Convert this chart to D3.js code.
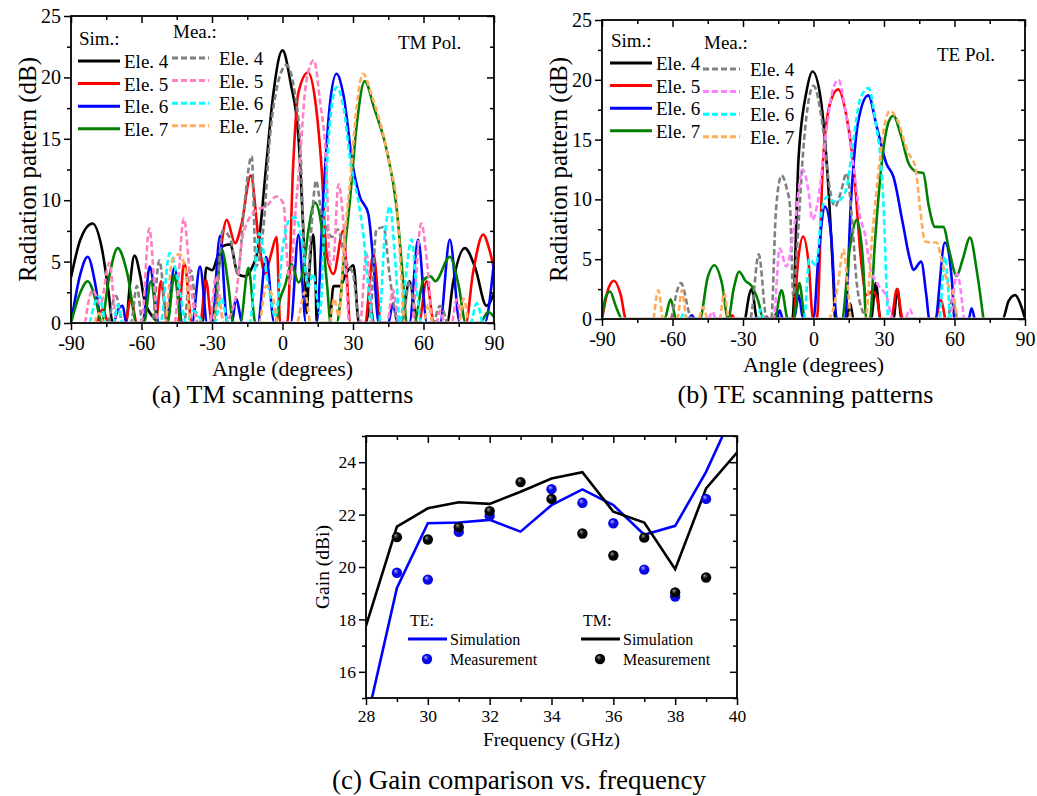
<!DOCTYPE html>
<html>
<head>
<meta charset="utf-8">
<script src="https://cdn.jsdelivr.net/npm/d3@7"></script>
<style>
  body { margin: 0; background: #fff; }
  svg text { font-family: "Liberation Serif", "Times New Roman", "DejaVu Serif", serif !important; fill: #000; }
</style>
</head>
<body>
<svg id="chart" width="1037" height="796" font-family="Liberation Serif, serif"></svg>
<script>
// ---- (a) TM radiation patterns: [angle (deg), level (dB)] ----
const tmSim4 = [[-90,3.7],[-86,6.8],[-80.8,8.1],[-77,6.2],[-74,2.5],[-72.3,0],[-66.6,0],[-65,3],[-63,5.5],[-60.5,3.8],[-58.8,1.9],[-55.2,0.5],[-52,0],[-34,0],[-32.5,4.5],[-30,4.3],[-26,6.2],[-22.3,6.4],[-19,4],[-16,3.8],[-13,4.5],[-10.5,6],[-7,12.7],[-4.2,18.2],[0,22.2],[3.5,19.5],[6.8,15.1],[9.5,4.6],[10.3,0.8],[11,3],[13.1,7.2],[14,4],[14.6,0],[20,0],[21.7,3],[24.5,3],[27,4],[30.2,4.7],[32.5,0],[35.5,0],[37.3,1.6],[38.8,0],[50.5,0],[54,3.4],[57.5,0],[70,0],[72.6,3.3],[77.6,6.1],[82,4.5],[86.8,1.4],[90,2.4]];
const tmSim5 = [[-79,0],[-76.5,1.1],[-74,0],[-67,0],[-64.5,2],[-62,0],[-54,0],[-51.7,3.4],[-49,0],[-44.5,0],[-41.8,4.9],[-38.5,0],[-35,0],[-32.6,3.5],[-30,0],[-27.5,4],[-23.7,8.4],[-20.2,6.5],[-17.5,8],[-13.5,12],[-10,6.5],[-7.4,4],[-5,5.5],[-2.5,7],[-1,0],[2,0],[4.5,12.7],[6.7,18.7],[10.9,20.4],[14,18],[16.6,12.7],[18.8,5.6],[21.7,4],[25.8,7.5],[29,0],[35,0],[38.7,5.6],[42,0],[58,0],[61.3,3.4],[64.5,0],[78,0],[81,4],[85.4,7.2],[88,6],[90,4.4]];
const tmSim6 = [[-90,0],[-86,4],[-82.9,5.4],[-79.5,3],[-77,0],[-72,0],[-70,1.1],[-68,1.4],[-66.5,0],[-59.5,0],[-56.5,4.6],[-52.5,0],[-49.5,0],[-46,4.5],[-42.5,0],[-38.5,0],[-35.1,4.6],[-32,0],[-30,0],[-26.6,7.1],[-23.5,0],[-21.5,0],[-19.8,2],[-17,0],[-10.5,0],[-7,5.4],[-3.5,0],[3.5,0],[6.8,7.2],[10,0],[14.5,0],[17.3,10],[20,17.5],[23,20.3],[26,18.5],[30,12.7],[32.9,10.3],[36.5,8.9],[38.6,5.1],[41,0],[45,0],[47,1.6],[49,0],[54,0],[57.7,6.8],[61.5,0],[67,0],[71.2,6.8],[75.5,0],[86,0],[90,5]];
const tmSim7 = [[-90,0],[-86,2.5],[-82.9,3.4],[-79,1.5],[-77,0],[-74,3.5],[-70.1,6.1],[-66,4],[-62,0],[-59,0],[-56,3.4],[-53,0],[-49,0],[-46,3.9],[-43,0],[-29.5,0],[-25.9,6],[-23,3],[-21,0],[-18,0],[-14.5,4.5],[-11.5,0],[-3,0],[-1.1,1.9],[1,3],[3.9,4.8],[6.8,3.3],[9,4.5],[11,7.5],[13.8,9.8],[16.5,8],[19,3],[20.5,0],[23,0],[24.4,1.4],[26,5],[28.7,10],[31.5,16],[35,19.7],[39,17.5],[44.3,14.1],[48.5,9.5],[51.5,3],[52.8,0],[56,0],[60,3.5],[63,3.8],[65,3.4],[71.2,5.4],[75,3],[78,0],[84,0],[87.5,0.9],[90,0.5]];
const tmMea4 = [[-74,0],[-70.8,2.2],[-68,0],[-64.5,0],[-62,3],[-59.5,0],[-55.5,0],[-52.4,5.1],[-49,0],[-42,0],[-39,4.3],[-36,0],[-29,0],[-25.5,7.5],[-22.3,6.9],[-19,4],[-16.5,9],[-13.1,13.6],[-11.3,4.6],[-8,8],[-5.6,14.6],[-2,19.5],[1.7,21],[5,19],[7.5,14.6],[9.5,5],[10.5,3],[12,7],[14.3,11.6],[16.5,9],[18.8,7.8],[21,7],[23.5,7.6],[27,5],[30,4],[33,0],[37,0],[40,7.6],[43,7.8],[45.5,4],[47,1.9],[49,0],[51,0],[54,3.4],[57,0],[64,0],[67,1.4],[70,0]];
const tmMea5 = [[-84,0],[-80.8,2.7],[-77.5,1.5],[-73.7,4.9],[-70.5,0],[-60,0],[-56.7,7.7],[-53,0],[-46,0],[-42,8.5],[-39,3],[-36,0],[-31,0],[-28.3,3.8],[-25,0],[-20,2],[-17,7],[-15.2,8.1],[-11,9.2],[-7,9.5],[-2.5,10.3],[0.5,9.7],[2,5],[3.1,3.2],[5.5,9],[7.4,13.3],[10,19.5],[13.3,21.4],[16,18],[18.7,12.7],[20.2,4.8],[21.6,5],[23.8,11.3],[26,8],[28.5,0],[33,0],[35.7,5.7],[38.5,0],[44.5,0],[47,2.7],[49.5,0],[55,0],[59,8.1],[62,4],[64,0],[65.5,0],[67,1],[69,0],[72,0],[74,1.9],[76,0]];
const tmMea6 = [[-82,0],[-78,2.2],[-75,0],[-72,0],[-70,1.5],[-68,0],[-52,0],[-48,5.7],[-44,3],[-41,0],[-38,1],[-33,0],[-29,0],[-26,2],[-23,0],[-14,0],[-9.9,7.3],[-6,3],[-3,0.5],[0,6],[2.9,8.4],[5.3,8.6],[8,7],[11,3],[13,4],[15.9,0.8],[18,9],[20,16],[23,19.2],[26,17.5],[29,13],[32.2,10],[34.5,7],[37,2],[38.6,0],[41,0],[43.5,7],[45.7,9.5],[48,5],[50,0],[52,3],[54.9,6.8],[57,3],[59,0],[80,0],[82.6,1.6],[85,0]];
const tmMea7 = [[-80,0],[-78,0.8],[-76,0],[-50,0],[-47,5],[-44,5.6],[-41,4],[-39,0],[-30,0],[-27,2],[-25,0],[-10,0],[-7,3],[-4,2],[-2,0],[6,0],[9.5,2.5],[12,0],[20,0],[22,2],[24,0.5],[26,6],[29,12],[31.5,17.5],[34.3,20.3],[38,18.5],[42.8,15.4],[46,12.5],[48.5,10],[50.5,4],[52,0],[60,0],[62,1.5],[64,0],[75,0],[77,2],[79,0]];

// ---- (b) TE radiation patterns ----
const teSim4 = [[-29,0],[-26.3,2.5],[-24,0],[-17,0],[-15.7,0.5],[-14.5,0],[-9,0],[-6.4,13.3],[-3,19],[-0.4,20.7],[3,18.5],[6,12],[8.5,3],[9.2,0],[14,0],[15.6,1.3],[17,0],[24.5,0],[26.5,3],[28.5,0],[34,0],[35.7,2.5],[37.5,0],[80.5,0],[83,1.5],[85.8,2],[88.5,1],[90,0]];
const teSim5 = [[-90,0],[-87,2.7],[-84.9,3.2],[-82,2],[-79.8,0],[-61,0],[-59.8,0.3],[-58.5,0],[-35.5,0],[-34.6,0.3],[-33.5,0],[-21,0],[-20,0.2],[-19,0],[-8.6,0],[-6.5,5],[-4.4,6.9],[-2,4.5],[-0.2,0],[1.4,0],[4,13],[7,18],[10.5,19.2],[14,17],[17,12.8],[20.5,4.4],[22.5,2],[25,2.3],[27,1.8],[28.5,0],[33,0],[35.5,2.5],[38,0],[52,0],[54,1.6],[56,0]];
const teSim6 = [[-53,0],[-51.8,0.3],[-50.5,0],[-16,0],[-14.4,0.7],[-13,0],[-8.3,0],[-6.3,2],[-4.4,0],[0,0],[2,5],[4.9,9.4],[7.5,7],[9.9,0],[13.4,0],[16,10],[19,16.5],[23.3,18.7],[27,16],[31,13],[34,11.9],[38,8],[41,5],[42.5,4.1],[45.8,4.8],[48,2],[49.3,0],[51.7,0],[55.9,6.4],[59,3],[60,0],[66,0],[67.3,0.9],[68.5,0]];
const teSim7 = [[-90,0],[-88.5,1.8],[-86.6,2.3],[-84,1],[-81.4,0],[-63.4,0],[-60.8,1.65],[-58.4,0],[-48.4,0],[-45,3.5],[-42.2,4.5],[-39,3],[-36.3,0],[-34,2.5],[-31.6,3.95],[-29,3.2],[-26.3,2.75],[-23.5,1.5],[-21.4,0],[-16.6,0],[-13.6,2.4],[-10.9,0],[-8.6,0],[-6,3],[-3.6,0],[12,0],[15.5,6],[18.4,8.3],[21,5],[22.5,0],[24,0],[26,6],[29,13],[32,16.5],[34,17],[37,15.5],[40.5,13],[43.9,12.3],[46.7,12.2],[49,9.5],[51.7,7.7],[55.2,7.7],[58,5.5],[60.9,3.6],[63.5,5],[66.6,6.8],[69.5,4],[72.3,0]];
const teMea4 = [[-60.4,0],[-56.4,3],[-51.8,0],[-27,0],[-23.3,5.4],[-19.9,0],[-18,0],[-16,9],[-13.6,12],[-11.5,11],[-10,9.4],[-8.6,1.9],[-7,6],[-4,15],[0,19.5],[4,16],[7,10.8],[9.2,9.4],[11.5,10.5],[14.1,12.2],[16.5,8],[18.4,3],[21.2,0.5],[22.5,0],[57,0],[58.9,1.6],[61,0]];
const teMea5 = [[-44.5,0],[-43,0.6],[-41.5,0],[-17,0],[-14.4,5.9],[-11.6,4.4],[-8,8],[-4.6,12.5],[-2,10.5],[-0.5,8.3],[2,10],[5,15],[8,19],[10.6,20],[13.5,17.5],[17,12.8],[19.8,8.6],[22,7],[24,4.4],[27,3],[31,1.9],[34,0],[39,0],[41,0.8],[43,0],[58,0],[61,3.8],[64,0]];
const teMea6 = [[-56.5,0],[-55,0.5],[-53.5,0],[-24,0],[-22.6,0.8],[-21,0],[-4,0],[-1.8,5],[1,4.5],[3.5,9],[5.6,10.2],[9,9.8],[11.5,10],[14.1,11],[17,15],[20,18.5],[23.4,19.3],[26,17],[29.7,10],[31,3],[31.8,0],[53.5,0],[55.9,5.2],[58,0]];
const teMea7 = [[-68,0],[-66,2.4],[-64,0],[-58,0],[-56,2.4],[-54,0],[-49,0],[-47,1],[-45,0],[-40,0],[-38,2.2],[-36,0],[6,0],[8.4,0.8],[10.5,3],[12.7,5.8],[14.5,3],[16,0],[22,0],[25,7],[27.6,12.2],[30,16],[32.5,17.4],[36,16.5],[40,14],[43.2,12.8],[45.5,9],[47.4,6.5],[50,6.4],[52.3,6.4],[55,4.5],[57,3],[59.4,2.2],[61,0]];

const elements = ['Ele. 4', 'Ele. 5', 'Ele. 6', 'Ele. 7'];
const angleTicks = [-90, -60, -30, 0, 30, 60, 90];
const levelTicks = [0, 5, 10, 15, 20, 25];

// ---- (c) gain vs frequency ----
const freqSim = [28, 29, 30, 31, 32, 33, 34, 35, 36, 37, 38, 39, 40];
const teSimGain = [14.0, 19.2, 21.67, 21.7, 21.8, 21.35, 22.36, 22.96, 22.36, 21.23, 21.57, 23.63, 26.2];
const tmSimGain = [17.75, 21.54, 22.24, 22.47, 22.41, 22.87, 23.38, 23.62, 22.11, 21.7, 19.92, 23.0, 24.37];
const teMeaFreq = [29, 30, 31, 32, 34, 35, 36, 37, 38, 39];
const teMeaGain = [19.78, 19.52, 21.34, 21.95, 22.97, 22.45, 21.67, 19.9, 18.87, 22.6];
const tmMeaFreq = [29, 30, 31, 32, 33, 34, 35, 36, 37, 38, 39];
const tmMeaGain = [21.14, 21.05, 21.52, 22.13, 23.24, 22.6, 21.28, 20.44, 21.12, 19.03, 19.6];
const freqTicks = [28, 30, 32, 34, 36, 38, 40];
const gainTicks = [16, 18, 20, 22, 24];

const simColors = ['#000000', '#ff0000', '#0000ff', '#008000'];

const svg = d3.select('#chart');
const defs = svg.append('defs');

// frame with outward ticks on left/bottom, inward mirror ticks on top/right
function drawFrame(g, x, y, o) {
  const fmt = d => String(d);
  const [x0, x1] = x.range();
  const [yb, yt] = y.range();
  const style = sel => {
    sel.attr('font-family', null).attr('font-size', null);
    sel.select('.domain').remove();
    sel.selectAll('line').attr('stroke', '#000').attr('stroke-width', 1.5);
    sel.selectAll('text').style('font-size', o.tickFont + 'px');
  };
  g.append('g').attr('transform', `translate(0,${yb})`)
    .call(d3.axisBottom(x).tickValues(o.xMinor).tickSize(4).tickFormat('')).call(style);
  g.append('g').attr('transform', `translate(0,${yb})`)
    .call(d3.axisBottom(x).tickValues(o.xMajor).tickSize(7).tickPadding(o.xPad).tickFormat(fmt)).call(style);
  g.append('g').attr('transform', `translate(${x0},0)`)
    .call(d3.axisLeft(y).tickValues(o.yMinor).tickSize(4).tickFormat('')).call(style);
  g.append('g').attr('transform', `translate(${x0},0)`)
    .call(d3.axisLeft(y).tickValues(o.yMajor).tickSize(7).tickPadding(3).tickFormat(fmt)).call(style);
  g.append('g').attr('transform', `translate(0,${yt})`)
    .call(d3.axisTop(x).tickValues(o.xMinor).tickSize(-4).tickFormat('')).call(style);
  g.append('g').attr('transform', `translate(0,${yt})`)
    .call(d3.axisTop(x).tickValues(o.xMajor).tickSize(-7).tickFormat('')).call(style);
  g.append('g').attr('transform', `translate(${x1},0)`)
    .call(d3.axisRight(y).tickValues(o.yMinor).tickSize(-4).tickFormat('')).call(style);
  g.append('g').attr('transform', `translate(${x1},0)`)
    .call(d3.axisRight(y).tickValues(o.yMajor).tickSize(-7).tickFormat('')).call(style);
  g.append('rect').attr('x', x0).attr('y', yt).attr('width', x1 - x0).attr('height', yb - yt)
    .attr('fill', 'none').attr('stroke', '#000').attr('stroke-width', 1.8);
}

function patternPanel(id, box, sims, meas, meaColors, t) {
  const g = svg.append('g');
  const x = d3.scaleLinear().domain([-90, 90]).range([box.x0, box.x1]);
  const y = d3.scaleLinear().domain([0, 25]).range([box.y1, box.y0]);

  defs.append('clipPath').attr('id', 'clip-' + id).append('rect')
    .attr('x', box.x0).attr('y', box.y0).attr('width', box.x1 - box.x0).attr('height', box.y1 - box.y0 - 1.5);

  const line = d3.line().x(d => x(d[0])).y(d => y(d[1])).curve(d3.curveMonotoneX);
  const plot = g.append('g').attr('clip-path', `url(#clip-${id})`);
  sims.forEach((s, i) => plot.append('path').attr('d', line(s)).attr('fill', 'none')
    .attr('stroke', simColors[i]).attr('stroke-width', 2.6).attr('stroke-linejoin', 'round'));
  meas.forEach((s, i) => plot.append('path').attr('d', line(s)).attr('fill', 'none')
    .attr('stroke', meaColors[i]).attr('stroke-width', 2.6).attr('stroke-dasharray', '6,3'));

  drawFrame(g, x, y, {
    xMajor: angleTicks, xMinor: d3.range(-75, 90, 30),
    yMajor: levelTicks, yMinor: d3.range(2.5, 25, 5),
    tickFont: 20, xPad: 6
  });

  // legend
  const lg = g.append('g').style('font-size', '19px');
  lg.append('text').attr('x', t.simX).attr('y', t.simY - 16).text('Sim.:');
  lg.append('text').attr('x', t.meaX).attr('y', t.meaY - 20).text('Mea.:');
  elements.forEach((e, i) => {
    const ys = t.simY + i * 22.6, ym = t.meaY + i * 22.6;
    lg.append('line').attr('x1', t.simX - 1).attr('x2', t.simX + 41).attr('y1', ys).attr('y2', ys)
      .attr('stroke', simColors[i]).attr('stroke-width', 3);
    lg.append('text').attr('x', t.simX + 45).attr('y', ys + 7).text(e);
    lg.append('line').attr('x1', t.meaX - 1).attr('x2', t.meaX + 36).attr('y1', ym).attr('y2', ym)
      .attr('stroke', meaColors[i]).attr('stroke-width', 3).attr('stroke-dasharray', '6,3');
    lg.append('text').attr('x', t.meaX + 46).attr('y', ym + 7).text(e);
  });
  g.append('text').attr('x', t.polX).attr('y', t.polY).style('font-size', '19px').text(t.pol);

  g.append('text').attr('transform', `translate(${t.yTitleX},${(box.y0 + box.y1) / 2}) rotate(-90)`)
    .attr('text-anchor', 'middle').attr('dominant-baseline', 'central')
    .style('font-size', '25px').text('Radiation pattern (dB)');
  g.append('text').attr('x', (box.x0 + box.x1) / 2).attr('y', t.xTitleY).attr('text-anchor', 'middle')
    .style('font-size', '22px').text('Angle (degrees)');
  g.append('text').attr('x', (box.x0 + box.x1) / 2 + t.capDx).attr('y', t.capY).attr('text-anchor', 'middle')
    .style('font-size', '26px').text(t.caption);
}

patternPanel('a', { x0: 71, x1: 494, y0: 16, y1: 323 },
  [tmSim4, tmSim5, tmSim6, tmSim7], [tmMea4, tmMea5, tmMea6, tmMea7],
  ['#808080', '#ff80c0', '#00ffff', '#ffad5c'],
  { simX: 79, simY: 61, meaX: 173, meaY: 58, pol: 'TM Pol.', polX: 398, polY: 49,
    yTitleX: 27, xTitleY: 376, capY: 403, capDx: 0, caption: '(a) TM scanning patterns' });

patternPanel('b', { x0: 602, x1: 1025, y0: 20, y1: 319 },
  [teSim4, teSim5, teSim6, teSim7], [teMea4, teMea5, teMea6, teMea7],
  ['#808080', '#ff80ff', '#00ffff', '#ffad5c'],
  { simX: 611, simY: 63, meaX: 704, meaY: 69, pol: 'TE Pol.', polX: 937, polY: 61,
    yTitleX: 558, xTitleY: 372, capY: 403, capDx: -8, caption: '(b) TE scanning patterns' });

// ---- panel (c) ----
(() => {
  const box = { x0: 366, x1: 737, y0: 436, y1: 698 };
  const g = svg.append('g');
  const x = d3.scaleLinear().domain([28, 40]).range([box.x0, box.x1]);
  const y = d3.scaleLinear().domain([15, 25]).range([box.y1, box.y0]);

  defs.append('clipPath').attr('id', 'clip-c').append('rect')
    .attr('x', box.x0).attr('y', box.y0).attr('width', box.x1 - box.x0).attr('height', box.y1 - box.y0);

  const grad = (id, c0, c1) => {
    const r = defs.append('radialGradient').attr('id', id).attr('cx', '50%').attr('cy', '50%').attr('r', '55%')
      .attr('fx', '35%').attr('fy', '30%');
    r.append('stop').attr('offset', '0%').attr('stop-color', c0);
    r.append('stop').attr('offset', '45%').attr('stop-color', c1);
    r.append('stop').attr('offset', '100%').attr('stop-color', c1);
  };
  grad('ballBlue', '#b0b0ff', '#0a0ae6');
  grad('ballBlack', '#9a9a9a', '#050505');

  const line = d3.line().x((d, i) => x(freqSim[i])).y(d => y(d));
  const plot = g.append('g').attr('clip-path', 'url(#clip-c)');
  plot.append('path').attr('d', line(teSimGain)).attr('fill', 'none').attr('stroke', '#0000ff').attr('stroke-width', 2.6);
  plot.append('path').attr('d', line(tmSimGain)).attr('fill', 'none').attr('stroke', '#000').attr('stroke-width', 2.6);
  plot.selectAll('.te').data(teMeaGain).enter().append('circle')
    .attr('cx', (d, i) => x(teMeaFreq[i])).attr('cy', d => y(d)).attr('r', 5.2).attr('fill', 'url(#ballBlue)');
  plot.selectAll('.tm').data(tmMeaGain).enter().append('circle')
    .attr('cx', (d, i) => x(tmMeaFreq[i])).attr('cy', d => y(d)).attr('r', 5.2).attr('fill', 'url(#ballBlack)');

  drawFrame(g, x, y, {
    xMajor: freqTicks, xMinor: d3.range(29, 40, 2),
    yMajor: gainTicks, yMinor: d3.range(15, 26, 2),
    tickFont: 17.5, xPad: 5
  });

  const lg = g.append('g').style('font-size', '16px');
  [['TE:', '#0000ff', 'url(#ballBlue)', 409], ['TM:', '#000', 'url(#ballBlack)', 582]].forEach(([lab, c, f, lx]) => {
    lg.append('text').attr('x', lx + 1).attr('y', 626).text(lab);
    lg.append('line').attr('x1', lx - 1).attr('x2', lx + 38).attr('y1', 639).attr('y2', 639)
      .attr('stroke', c).attr('stroke-width', 3);
    lg.append('text').attr('x', lx + 41).attr('y', 645).text('Simulation');
    lg.append('circle').attr('cx', lx + 18).attr('cy', 659).attr('r', 5.2).attr('fill', f);
    lg.append('text').attr('x', lx + 41).attr('y', 665).text('Measurement');
  });

  g.append('text').attr('transform', `translate(322,${(box.y0 + box.y1) / 2}) rotate(-90)`)
    .attr('text-anchor', 'middle').attr('dominant-baseline', 'central')
    .style('font-size', '19.5px').text('Gain (dBi)');
  g.append('text').attr('x', (box.x0 + box.x1) / 2).attr('y', 746).attr('text-anchor', 'middle')
    .style('font-size', '19.5px').text('Frequency (GHz)');
  g.append('text').attr('x', 519).attr('y', 789).attr('text-anchor', 'middle')
    .style('font-size', '27px').text('(c) Gain comparison vs. frequency');
})();
</script>
</body>
</html>
